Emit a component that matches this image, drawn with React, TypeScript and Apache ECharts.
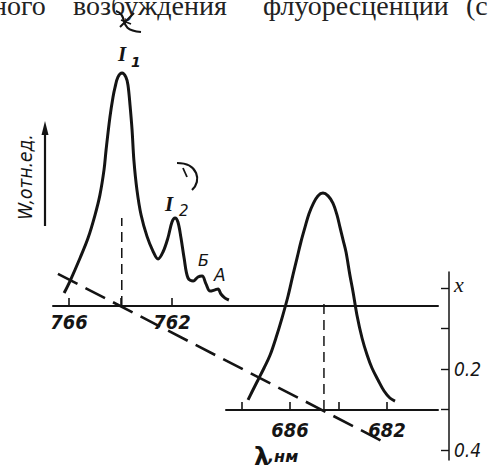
import React, { useEffect, useRef } from 'react';
import * as echarts from 'echarts';

// Upper spectrum (wavelength, nm ; relative intensity W)
const topWavelengths = [766.19, 765.96, 765.57, 765.26, 764.99, 764.8, 764.64, 764.56, 764.41, 764.29, 764.21, 764.1, 763.94, 763.79, 763.71, 763.63, 763.55, 763.48, 763.36, 763.2, 762.97, 762.74, 762.54, 762.35, 762.16, 762.0, 761.88, 761.77, 761.65, 761.53, 761.38, 761.18, 760.99, 760.83, 760.68, 760.52, 760.33, 760.21, 760.1, 759.94, 759.79];
const topIntensity = [0.054, 0.104, 0.2, 0.283, 0.379, 0.462, 0.567, 0.65, 0.787, 0.871, 0.912, 0.954, 0.971, 0.954, 0.921, 0.837, 0.733, 0.608, 0.483, 0.379, 0.29, 0.229, 0.196, 0.225, 0.283, 0.35, 0.367, 0.35, 0.283, 0.2, 0.117, 0.104, 0.121, 0.125, 0.092, 0.062, 0.067, 0.071, 0.05, 0.033, 0.025];
const topTicks = [766, 764, 762];
const topLabels = [766, 762];

// Lower spectrum
const lowWavelengths = [687.73, 687.57, 687.32, 687.07, 686.82, 686.58, 686.33, 686.08, 685.88, 685.71, 685.55, 685.38, 685.22, 685.05, 684.85, 684.64, 684.43, 684.23, 684.06, 683.94, 683.81, 683.69, 683.53, 683.4, 683.24, 683.03, 682.82, 682.62, 682.37, 682.12, 681.88, 681.67];
const lowIntensity = [0.042, 0.075, 0.125, 0.175, 0.229, 0.3, 0.383, 0.475, 0.562, 0.633, 0.7, 0.762, 0.817, 0.858, 0.892, 0.904, 0.892, 0.862, 0.812, 0.762, 0.708, 0.658, 0.562, 0.492, 0.396, 0.3, 0.229, 0.175, 0.125, 0.079, 0.05, 0.037];
const lowTicks = [688, 686, 684, 682];
const lowLabels = [686, 682];

// Composition axis x
const xTicks = [0, 0.1, 0.2, 0.3, 0.4];
const xLabels = [0, 0.2, 0.4];

// Peak markers
const peakTop = [763.95, 0.367];
const peakLow = [684.6, 0.458];
// Construction line (upper wavelength scale ; x)
const constructionWl = [766.43, 753.69];
const constructionX = [-0.035, 0.383];

const zip = (a: number[], b: number[]) => a.map((v, i) => [v, b[i]]);

const tickFont = {
  fontFamily: 'DejaVu Sans Condensed',
  fontStyle: 'italic' as const,
  fontWeight: 'bold' as const,
  fontSize: 20,
  color: '#151515',
};

export default function App() {
  const ref = useRef<HTMLDivElement>(null);
  useEffect(() => {
    if (!ref.current) return;
    const chart = echarts.init(ref.current, undefined, { renderer: 'svg' });
    const ink = '#141414';
    const option: any = {
      animation: false,
      backgroundColor: '#ffffff',
      grid: [
        { left: 53, right: 50, top: 66, bottom: 161 },
        { left: 226, right: 50, top: 170, bottom: 57 },
        { left: 53, right: 39, top: 272, bottom: 7 },
      ],
      xAxis: [
        {
          type: 'value', gridIndex: 0, inverse: true, min: 751.67, max: 766.621,
          axisLine: { show: true, onZero: false, lineStyle: { color: ink, width: 2 } },
          axisTick: { show: true, inside: true, length: 8, customValues: topTicks, lineStyle: { color: ink, width: 1.6 } },
          axisLabel: { show: true, customValues: topLabels, margin: 6, ...tickFont },
          splitLine: { show: false },
        },
        {
          type: 'value', gridIndex: 1, inverse: true, min: 679.897, max: 688.639,
          axisLine: { show: true, onZero: false, lineStyle: { color: ink, width: 2 } },
          axisTick: { show: true, inside: true, length: 8, customValues: lowTicks, lineStyle: { color: ink, width: 1.6 } },
          axisLabel: { show: true, customValues: lowLabels, margin: 10, ...tickFont },
          splitLine: { show: false },
        },
        {
          type: 'value', gridIndex: 2, inverse: true, min: 751.243, max: 766.621, show: false,
        },
      ],
      yAxis: [
        { type: 'value', gridIndex: 0, min: 0, max: 1, show: false },
        { type: 'value', gridIndex: 1, min: 0, max: 1, show: false },
        {
          type: 'value', gridIndex: 2, position: 'right', inverse: true, min: -0.0395, max: 0.4247,
          axisLine: { show: true, onZero: false, lineStyle: { color: ink, width: 1.5 } },
          axisTick: { show: true, inside: true, length: 8, customValues: xTicks, lineStyle: { color: ink, width: 1.4 } },
          axisLabel: {
            show: true, customValues: xLabels, margin: 5,
            fontFamily: 'DejaVu Sans Condensed', fontStyle: 'italic', fontSize: 19, color: '#151515',
            formatter: (v: number) => (Math.abs(v) < 1e-9 ? '{x|x}' : v.toFixed(1)),
            rich: { x: { fontFamily: 'Liberation Serif', fontStyle: 'italic', fontSize: 22, color: '#151515', padding: [0, 0, 6, 0] } },
          },
          splitLine: { show: false },
        },
      ],
      series: [
        {
          type: 'line', xAxisIndex: 0, yAxisIndex: 0, data: zip(topWavelengths, topIntensity),
          smooth: 0.35, showSymbol: false, lineStyle: { color: ink, width: 3 },
        },
        {
          type: 'line', xAxisIndex: 0, yAxisIndex: 0, data: [[peakTop[0], 0], peakTop],
          showSymbol: false, lineStyle: { color: ink, width: 1.5, type: [10, 6] },
        },
        {
          type: 'line', xAxisIndex: 1, yAxisIndex: 1, data: zip(lowWavelengths, lowIntensity),
          smooth: 0.35, showSymbol: false, lineStyle: { color: ink, width: 3 },
        },
        {
          type: 'line', xAxisIndex: 1, yAxisIndex: 1, data: [[peakLow[0], 0], peakLow],
          showSymbol: false, lineStyle: { color: ink, width: 1.5, type: [10, 6] },
        },
        {
          type: 'line', xAxisIndex: 2, yAxisIndex: 2, data: zip(constructionWl, constructionX),
          showSymbol: false, lineStyle: { color: ink, width: 2.6, type: [22, 9] },
        },
      ],
      graphic: [
        // running text of the page above the figure
        { type: 'text', left: -8, top: -9, style: { text: 'ного', font: '28px "Liberation Serif"', fill: '#222' } },
        { type: 'text', left: 73, top: -9, style: { text: 'возбуждения', font: '28px "Liberation Serif"', fill: '#222' } },
        { type: 'text', left: 263, top: -9, style: { text: 'флуоресценции', font: '28px "Liberation Serif"', fill: '#222' } },
        { type: 'text', left: 466, top: -9, style: { text: '(с', font: '28px "Liberation Serif"', fill: '#222' } },
        // pen marks
        { type: 'bezierCurve', shape: { x1: 116, y1: 11, cpx1: 130, cpy1: 16, cpx2: 116, cpy2: 30, x2: 141, y2: 32 }, style: { stroke: ink, lineWidth: 2.2, fill: 'none' } },
        { type: 'line', shape: { x1: 120, y1: 27, x2: 134, y2: 13 }, style: { stroke: ink, lineWidth: 2 } },
        { type: 'line', shape: { x1: 121, y1: 20, x2: 131, y2: 24 }, style: { stroke: ink, lineWidth: 1.6 } },
        { type: 'bezierCurve', shape: { x1: 177, y1: 163, cpx1: 198, cpy1: 163, cpx2: 202, cpy2: 181, x2: 192, y2: 190 }, style: { stroke: ink, lineWidth: 2.2, fill: 'none' } },
        { type: 'line', shape: { x1: 183, y1: 168, x2: 187, y2: 177 }, style: { stroke: ink, lineWidth: 1.8 } },
        // peak labels
        { type: 'text', left: 118, top: 43, style: { text: 'I', font: 'italic bold 21px "Liberation Serif"', fill: ink } },
        { type: 'text', left: 131, top: 55, style: { text: '1', font: 'italic bold 14px "DejaVu Sans"', fill: ink } },
        { type: 'text', left: 165, top: 193, style: { text: 'I', font: 'italic bold 21px "Liberation Serif"', fill: ink } },
        { type: 'text', left: 179, top: 203, style: { text: '2', font: 'italic 15px "DejaVu Sans"', fill: ink } },
        { type: 'text', left: 198, top: 252, style: { text: 'Б', font: 'italic 16px "DejaVu Sans"', fill: ink } },
        { type: 'text', left: 214, top: 266, style: { text: 'А', font: 'italic 17px "DejaVu Sans"', fill: ink } },
        // y axis title and arrow
        { type: 'text', x: 25, y: 177, rotation: Math.PI / 2, style: { text: 'W,отн.ед.', font: 'italic 19px "DejaVu Sans Condensed"', fill: ink, align: 'center', verticalAlign: 'middle' } },
        { type: 'line', shape: { x1: 45, y1: 226, x2: 45, y2: 132 }, style: { stroke: ink, lineWidth: 2.2 } },
        { type: 'polygon', shape: { points: [[45, 121], [41.5, 135], [48.5, 135]] }, style: { fill: ink } },
        // x axis title
        { type: 'text', left: 254, top: 445, style: { text: 'λ', font: 'bold 24px "DejaVu Sans"', fill: ink } },
        { type: 'text', left: 268, top: 448, style: { text: ',нм', font: 'italic bold 16px "DejaVu Sans"', fill: ink } },
      ],
    };
    chart.setOption(option);
    return () => chart.dispose();
  }, []);
  return <div ref={ref} style={{ position: 'fixed', left: 0, top: 0, width: 488, height: 467 }} />;
}
